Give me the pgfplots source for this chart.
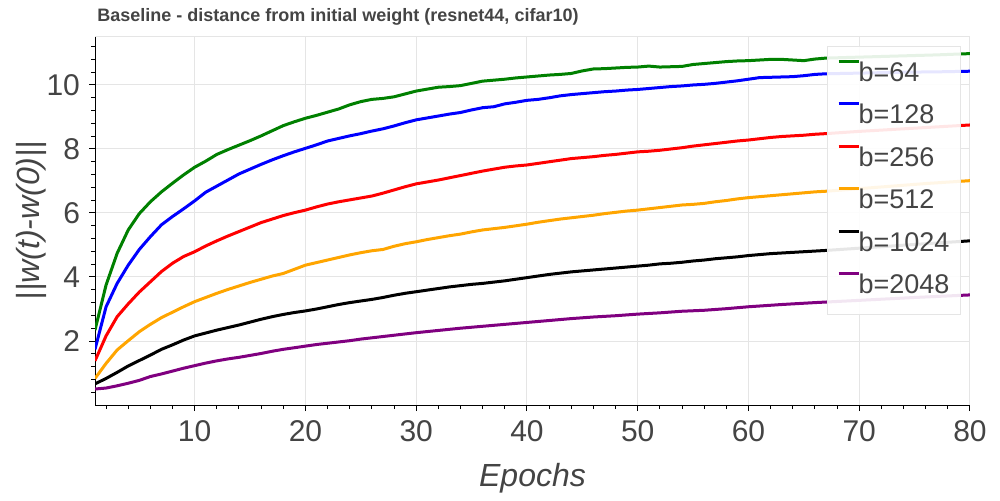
\documentclass[border=0pt]{standalone}
\usepackage{fontspec}
\setmainfont{Liberation Sans}
\usepackage{pgfplots}
\pgfplotsset{compat=1.18}
\definecolor{txtgray}{HTML}{444444}
\definecolor{gridgray}{HTML}{E5E5E5}
\definecolor{cgreen}{HTML}{008000}
\definecolor{cblue}{HTML}{0000FF}
\definecolor{cred}{HTML}{FF0000}
\definecolor{corange}{HTML}{FFA500}
\definecolor{cpurple}{HTML}{800080}
\begin{document}
\begin{tikzpicture}
\path[use as bounding box] (0,0) rectangle (500pt,250pt);
\begin{axis}[
  at={(47.5pt,47.5pt)}, anchor=south west,
  scale only axis, width=437.5pt, height=184.5pt,
  xmin=1, xmax=80, ymin=0, ymax=11.53,
  axis lines*=left,
  axis line style={black, line width=0.5pt},
  xtick={10,20,...,80}, ytick={2,4,...,10},
  minor xtick={2,4,...,78}, minor ytick={0.4,0.8,...,11.3},
  tick align=outside,
  major tick length=3pt, minor tick length=2pt,
  every tick/.style={black, line width=0.5pt},
  grid=major,
  major grid style={gridgray, line width=0.5pt},
  /pgf/number format/assume math mode=true,
  tick label style={font=\fontsize{15}{18}\selectfont, text=txtgray},
  xticklabel style={yshift=-1pt},
  yticklabel style={xshift=-1pt},
  xlabel={\itshape Epochs},
  ylabel={\itshape ||w(t)-w(0)||},
  label style={font=\fontsize{16}{19}\selectfont, text=txtgray},
  xlabel style={at={(axis description cs:0.5,-0.198)}, anchor=center},
  ylabel style={at={(axis description cs:-0.0731,0.5)}, anchor=center},
  title={Baseline - distance from initial weight (resnet44, cifar10)},
  title style={at={(axis description cs:0,1)}, anchor=base west, inner sep=0pt, xshift=1pt, yshift=1.5pt, font=\bfseries\fontsize{9}{11}\selectfont, text=txtgray},
  legend style={at={(0.9897,0.9729)}, anchor=north east, draw=gridgray, line width=0.5pt,
    fill=white, fill opacity=0.9, text opacity=1, draw opacity=1,
    font=\fontsize{13.5}{16}\selectfont, text=txtgray,
    inner xsep=5.5pt, inner ysep=7.5pt, row sep=8.2pt,
    nodes={inner sep=0pt, text height=10pt, text depth=3pt},
    /tikz/every even column/.append style={column sep=3.5pt}},
  legend cell align=left,
  legend image code/.code={\path[draw=none, fill=none] (0pt,4.25pt) rectangle (10pt,5.75pt); \draw[#1, line width=1.5pt, overlay] (0pt,6.5pt) -- (10pt,6.5pt);},
  every axis plot/.append style={line width=1.5pt},
]
\draw[gridgray, line width=0.5pt] (rel axis cs:0,1) -- (rel axis cs:1,1) -- (rel axis cs:1,0);
\addplot[cgreen] coordinates {(1,2.34)(2,3.75)(3,4.74)(4,5.47)(5,5.98)(6,6.35)(7,6.66)(8,6.93)(9,7.19)(10,7.43)(11,7.62)(12,7.83)(13,7.98)(14,8.12)(15,8.26)(16,8.41)(17,8.57)(18,8.73)(19,8.85)(20,8.96)(21,9.05)(22,9.15)(23,9.25)(24,9.38)(25,9.48)(26,9.55)(27,9.58)(28,9.63)(29,9.72)(30,9.81)(31,9.87)(32,9.93)(33,9.95)(34,9.98)(35,10.05)(36,10.12)(37,10.15)(38,10.18)(39,10.22)(40,10.25)(41,10.28)(42,10.31)(43,10.33)(44,10.36)(45,10.44)(46,10.50)(47,10.51)(48,10.53)(49,10.55)(50,10.56)(51,10.59)(52,10.56)(53,10.57)(54,10.58)(55,10.64)(56,10.67)(57,10.70)(58,10.73)(59,10.75)(60,10.76)(61,10.78)(62,10.80)(63,10.80)(64,10.78)(65,10.76)(66,10.81)(67,10.84)(70,10.87)(74,10.91)(77,10.94)(80,10.98)};
\addlegendentry{b=64}
\addplot[cblue] coordinates {(1,1.74)(2,3.07)(3,3.80)(4,4.37)(5,4.86)(6,5.26)(7,5.63)(8,5.89)(9,6.13)(10,6.38)(11,6.65)(12,6.84)(13,7.03)(14,7.22)(15,7.37)(16,7.52)(17,7.66)(18,7.79)(19,7.91)(20,8.02)(21,8.13)(22,8.25)(23,8.33)(24,8.41)(25,8.48)(26,8.56)(27,8.63)(28,8.72)(29,8.82)(30,8.91)(31,8.97)(32,9.03)(33,9.09)(34,9.14)(35,9.22)(36,9.29)(37,9.32)(38,9.41)(39,9.46)(40,9.52)(41,9.55)(42,9.60)(43,9.66)(44,9.70)(45,9.73)(46,9.76)(47,9.79)(48,9.81)(49,9.84)(50,9.86)(51,9.89)(52,9.92)(53,9.95)(54,9.97)(55,10.00)(56,10.02)(57,10.05)(58,10.09)(59,10.13)(60,10.18)(61,10.23)(62,10.24)(63,10.25)(64,10.26)(65,10.29)(66,10.33)(67,10.35)(70,10.37)(74,10.40)(77,10.41)(80,10.43)};
\addlegendentry{b=128}
\addplot[cred] coordinates {(1,1.38)(2,2.16)(3,2.76)(4,3.16)(5,3.53)(6,3.85)(7,4.17)(8,4.43)(9,4.64)(10,4.79)(11,4.97)(12,5.13)(13,5.28)(14,5.42)(15,5.56)(16,5.70)(17,5.81)(18,5.92)(19,6.01)(20,6.09)(21,6.19)(22,6.28)(23,6.35)(24,6.41)(25,6.47)(26,6.53)(27,6.62)(28,6.72)(29,6.82)(30,6.91)(31,6.97)(32,7.03)(33,7.10)(34,7.17)(35,7.24)(36,7.31)(37,7.37)(38,7.43)(39,7.47)(40,7.50)(41,7.55)(42,7.60)(43,7.65)(44,7.70)(45,7.73)(46,7.76)(47,7.80)(48,7.83)(49,7.87)(50,7.91)(51,7.93)(52,7.96)(53,8.00)(54,8.04)(55,8.09)(56,8.13)(57,8.17)(58,8.21)(59,8.25)(60,8.28)(61,8.32)(62,8.36)(63,8.39)(64,8.41)(65,8.43)(66,8.46)(67,8.48)(70,8.55)(73,8.61)(76,8.67)(80,8.75)};
\addlegendentry{b=256}
\addplot[corange] coordinates {(1,0.83)(2,1.30)(3,1.72)(4,2.01)(5,2.29)(6,2.52)(7,2.73)(8,2.90)(9,3.07)(10,3.23)(11,3.36)(12,3.49)(13,3.61)(14,3.72)(15,3.83)(16,3.93)(17,4.03)(18,4.11)(19,4.24)(20,4.37)(21,4.45)(22,4.53)(23,4.61)(24,4.69)(25,4.76)(26,4.82)(27,4.86)(28,4.96)(29,5.04)(30,5.10)(31,5.17)(32,5.23)(33,5.29)(34,5.34)(35,5.41)(36,5.47)(37,5.51)(38,5.55)(39,5.60)(40,5.65)(41,5.71)(42,5.76)(43,5.81)(44,5.85)(45,5.89)(46,5.93)(47,5.98)(48,6.02)(49,6.06)(50,6.09)(51,6.13)(52,6.17)(53,6.21)(54,6.25)(55,6.27)(56,6.30)(57,6.35)(58,6.39)(59,6.44)(60,6.48)(61,6.51)(62,6.54)(63,6.57)(64,6.60)(65,6.63)(66,6.66)(67,6.68)(70,6.76)(73,6.84)(76,6.92)(80,7.01)};
\addlegendentry{b=512}
\addplot[black] coordinates {(1,0.66)(2,0.83)(3,1.02)(4,1.22)(5,1.39)(6,1.56)(7,1.74)(8,1.88)(9,2.03)(10,2.16)(11,2.25)(12,2.34)(13,2.42)(14,2.50)(15,2.59)(16,2.68)(17,2.76)(18,2.83)(19,2.89)(20,2.94)(21,3.00)(22,3.07)(23,3.14)(24,3.20)(25,3.25)(26,3.30)(27,3.36)(28,3.43)(29,3.49)(30,3.54)(31,3.59)(32,3.64)(33,3.69)(34,3.73)(35,3.77)(36,3.80)(37,3.84)(38,3.88)(39,3.93)(40,3.98)(41,4.03)(42,4.08)(43,4.12)(44,4.16)(45,4.19)(46,4.22)(47,4.25)(48,4.28)(49,4.31)(50,4.34)(51,4.37)(52,4.41)(53,4.43)(54,4.46)(55,4.50)(56,4.53)(57,4.57)(58,4.60)(59,4.63)(60,4.67)(61,4.70)(62,4.73)(63,4.75)(64,4.77)(65,4.79)(66,4.81)(67,4.83)(70,4.90)(73,4.97)(76,5.04)(80,5.13)};
\addlegendentry{b=1024}
\addplot[cpurple] coordinates {(1,0.50)(2,0.53)(3,0.60)(4,0.68)(5,0.77)(6,0.89)(7,0.97)(8,1.06)(9,1.15)(10,1.23)(11,1.31)(12,1.38)(13,1.44)(14,1.49)(15,1.55)(16,1.61)(17,1.68)(18,1.74)(19,1.79)(20,1.84)(21,1.89)(22,1.93)(23,1.97)(24,2.01)(25,2.06)(26,2.10)(27,2.14)(28,2.18)(29,2.22)(30,2.26)(32,2.33)(34,2.40)(36,2.46)(38,2.52)(40,2.58)(42,2.64)(44,2.70)(46,2.75)(48,2.79)(50,2.84)(52,2.88)(54,2.93)(56,2.96)(58,3.01)(60,3.07)(63,3.14)(66,3.20)(70,3.27)(75,3.36)(80,3.44)};
\addlegendentry{b=2048}
\end{axis}
\end{tikzpicture}
\end{document}
